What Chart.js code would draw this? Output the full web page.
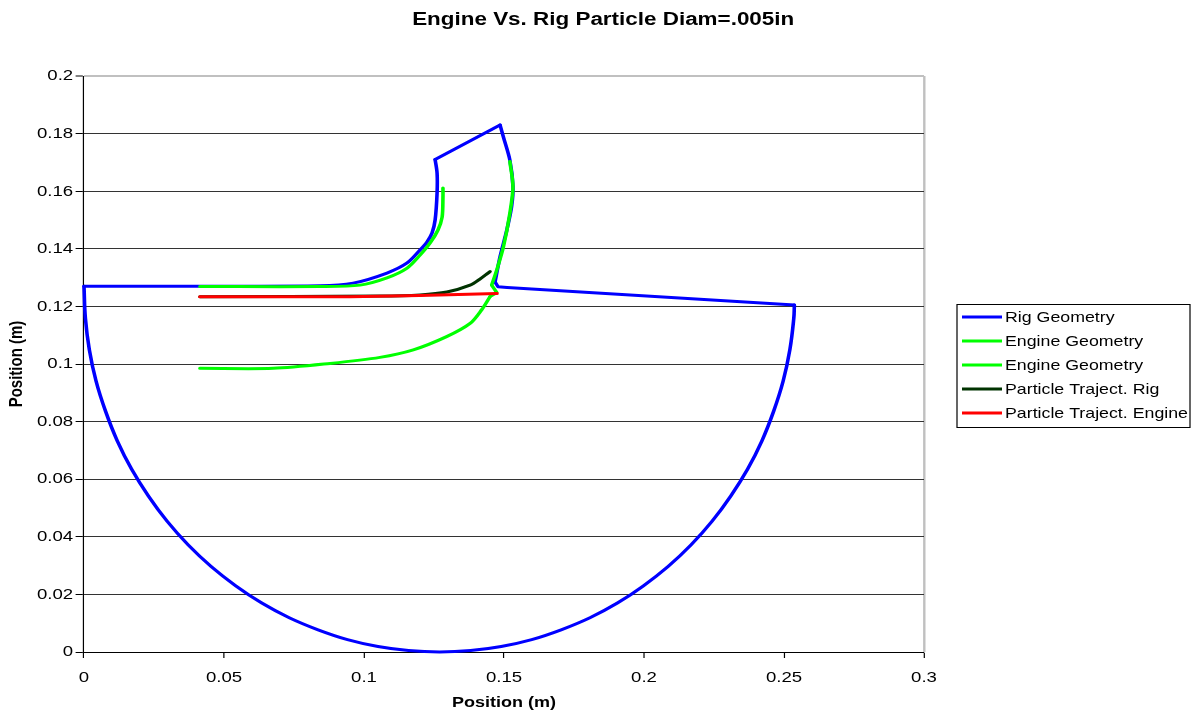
<!DOCTYPE html>
<html>
<head>
<meta charset="utf-8">
<script src="https://cdn.jsdelivr.net/npm/chart.js@4/dist/chart.umd.min.js"></script>
<style>
html,body{margin:0;padding:0;background:#fff;overflow:hidden}
canvas{display:block}
</style>
</head>
<body>
<canvas id="c" width="998" height="715" style="width:1198px;height:715px"></canvas>
<script>
// ---- text ----
const chartTitle = 'Engine Vs. Rig Particle Diam=.005in';
const xAxisTitle = 'Position (m)';
const yAxisTitle = 'Position (m)';
const xTickLabels = ['0', '0.05', '0.1', '0.15', '0.2', '0.25', '0.3'];
const yTickLabels = ['0', '0.02', '0.04', '0.06', '0.08', '0.1', '0.12', '0.14', '0.16', '0.18', '0.2'];
const seriesNames = ['Rig Geometry', 'Engine Geometry', 'Engine Geometry', 'Particle Traject. Rig', 'Particle Traject. Engine'];
const seriesColors = ['#0000FF', '#00FF00', '#00FF00', '#003300', '#FF0000'];

// ---- data ----
const rigX = [0, 0.0843, 0.0961, 0.1082, 0.1154, 0.1200, 0.1225, 0.1243, 0.1254, 0.1261, 0.1261, 0.1254,
  0.1486, 0.1498, 0.1521, 0.1532, 0.1527, 0.1510, 0.1486, 0.1468, 0.1479, 0.1511, 0.2537,
  0.2535, 0.2521, 0.2497, 0.2463, 0.2421, 0.2370, 0.2310, 0.2243, 0.2168, 0.2086, 0.1998, 0.1905, 0.1807, 0.1704, 0.1599, 0.1490, 0.1381,
  0.1270, 0.1159, 0.1050, 0.0941, 0.0836, 0.0733, 0.0635, 0.0542, 0.0454, 0.0372, 0.0297, 0.0230, 0.0170, 0.0119, 0.0077, 0.0043, 0.0019, 0.0005, 0];
const rigY = [0.1270, 0.1272, 0.1281, 0.1316, 0.1351, 0.1396, 0.1424, 0.1455, 0.1500, 0.1594, 0.1663, 0.1710,
  0.1830, 0.1788, 0.1708, 0.1616, 0.1546, 0.1465, 0.1373, 0.1285, 0.1268, 0.1266, 0.1205,
  0.1159, 0.1050, 0.0941, 0.0836, 0.0733, 0.0635, 0.0542, 0.0454, 0.0372, 0.0297, 0.0230, 0.0170, 0.0119, 0.0077, 0.0043, 0.0019, 0.0005,
  0.0000, 0.0005, 0.0019, 0.0043, 0.0077, 0.0119, 0.0170, 0.0230, 0.0297, 0.0372, 0.0454, 0.0542, 0.0635, 0.0733, 0.0836, 0.0941, 0.1050, 0.1159, 0.1270];

const engineAX = [0.0414, 0.0843, 0.0986, 0.1082, 0.1154, 0.1200, 0.1236, 0.1264, 0.1279, 0.1282, 0.1282];
const engineAY = [0.1269, 0.1269, 0.1274, 0.1299, 0.1333, 0.1378, 0.1420, 0.1465, 0.1510, 0.1580, 0.1611];

const engineBX = [0.1521, 0.1532, 0.1521, 0.1498, 0.1474, 0.1456, 0.1474, 0.1450, 0.1420, 0.1379, 0.1295, 0.1176, 0.1057, 0.0879, 0.0676, 0.0414];
const engineBY = [0.1703, 0.1616, 0.1524, 0.1407, 0.1326, 0.1274, 0.1248, 0.1234, 0.1188, 0.1141, 0.1095, 0.1049, 0.1023, 0.1002, 0.0985, 0.0985];

const partRigX = [0.0414, 0.1057, 0.1200, 0.1296, 0.1379, 0.1414, 0.1443, 0.1450];
const partRigY = [0.1234, 0.1236, 0.1240, 0.1250, 0.1274, 0.1295, 0.1316, 0.1321];

const partEngX = [0.0414, 0.0950, 0.1200, 0.1475];
const partEngY = [0.1234, 0.1234, 0.1238, 0.1245];

// ---- smoothing pieces: [firstIndex, lastIndex, tension] (sharp corners kept straight) ----
const rigPieces = [[0, 11, 0.3], [11, 12, 0], [12, 19, 0.3], [19, 22, 0], [22, 58, 0.4]];
const engineAPieces = [[0, 10, 0.3]];
const engineBPieces = [[0, 5, 0.3], [5, 7, 0], [7, 15, 0.3]];
const partRigPieces = [[0, 7, 0.3]];
const partEngPieces = [[0, 3, 0]];

// ---- layout ----
const OUT_W = 1198, INNER_W = 998, H = 715;
const SX = OUT_W / INNER_W;
const FONT = "'Liberation Sans', Arial, Helvetica, sans-serif";
const RIGHT_GAP = INNER_W - 924 / SX;
const PAD_LEFT = 7;

Chart.defaults.font.family = FONT;
Chart.defaults.color = '#000';

function pts(xs, ys) { return xs.map((x, i) => ({ x: x, y: ys[i] })); }

const series = [
  [rigX, rigY, rigPieces],
  [engineAX, engineAY, engineAPieces],
  [engineBX, engineBY, engineBPieces],
  [partRigX, partRigY, partRigPieces],
  [partEngX, partEngY, partEngPieces]
];

const datasets = [];
series.forEach((s, i) => {
  const all = pts(s[0], s[1]);
  s[2].forEach(p => {
    datasets.push({
      label: seriesNames[i],
      data: all.slice(p[0], p[1] + 1),
      showLine: true,
      borderColor: seriesColors[i],
      backgroundColor: seriesColors[i],
      borderWidth: 3,
      pointRadius: 0,
      pointHoverRadius: 0,
      tension: p[2],
      borderCapStyle: 'round',
      borderJoinStyle: 'round',
      clip: 8,
      order: 5 - i
    });
  });
});

const stretchPlugin = {
  id: 'stretch',
  beforeDraw(chart) { chart.ctx.setTransform(SX, 0, 0, 1, 0, 0); }
};

const legendBoxPlugin = {
  id: 'legendBox',
  afterDraw(chart) {
    const ctx = chart.ctx;
    ctx.save();
    ctx.setTransform(SX, 0, 0, 1, 0, 0);
    const x1 = 957 / SX, x2 = 1190 / SX, y1 = 304.5, y2 = 427.5;
    ctx.fillStyle = '#fff';
    ctx.fillRect(x1, y1, x2 - x1, y2 - y1);
    ctx.strokeStyle = '#000';
    ctx.lineWidth = 1;
    ctx.strokeRect(x1, y1, x2 - x1, y2 - y1);
    const rowY = [317, 341, 365, 389, 413];
    ctx.font = '14.8px ' + FONT;
    ctx.textBaseline = 'middle';
    ctx.textAlign = 'left';
    seriesNames.forEach((name, i) => {
      ctx.strokeStyle = seriesColors[i];
      ctx.lineWidth = 3;
      ctx.beginPath();
      ctx.moveTo(962 / SX, rowY[i]);
      ctx.lineTo(1002 / SX, rowY[i]);
      ctx.stroke();
      ctx.fillStyle = '#000';
      ctx.fillText(name, 1005 / SX, rowY[i] + 1);
    });
    ctx.restore();
  }
};

const lastX = xTickLabels.length - 1;
const lastY = yTickLabels.length - 1;

const chart = new Chart(document.getElementById('c'), {
  type: 'scatter',
  data: { datasets: datasets },
  plugins: [stretchPlugin, legendBoxPlugin],
  options: {
    responsive: false,
    animation: false,
    devicePixelRatio: 1,
    events: [],
    layout: { padding: { left: PAD_LEFT, right: 0, top: 0, bottom: 0 } },
    plugins: {
      legend: { display: false },
      tooltip: { enabled: false },
      title: {
        display: true,
        text: chartTitle,
        color: '#000',
        font: { size: 18.7, weight: 'bold', family: FONT },
        padding: { top: 8.3, bottom: 45.3 }
      }
    },
    scales: {
      x: {
        type: 'linear',
        position: 'bottom',
        min: 0, max: 0.3,
        ticks: {
          stepSize: 0.05,
          autoSkip: false,
          maxRotation: 0,
          color: '#000',
          padding: 10,
          font: { size: 15.5 },
          callback: (v, i) => xTickLabels[i]
        },
        grid: {
          drawOnChartArea: true,
          color: c => c.index === lastX ? '#c0c0c0' : 'rgba(0,0,0,0)',
          lineWidth: c => c.index === lastX ? 2 : 1,
          tickColor: '#000',
          tickWidth: 1,
          tickLength: 6
        },
        border: { display: true, color: '#000', width: 1 },
        title: {
          display: true, text: xAxisTitle, color: '#000',
          font: { size: 15, weight: 'bold' },
          padding: { top: 2, bottom: 3 }
        },
        afterFit: s => { s.height = 63; }
      },
      y: {
        type: 'linear',
        position: 'left',
        min: 0, max: 0.2,
        ticks: {
          stepSize: 0.02,
          autoSkip: false,
          color: '#000',
          padding: 2,
          font: { size: 15.5 },
          callback: (v, i) => yTickLabels[i]
        },
        grid: {
          color: c => c.index === lastY ? '#c0c0c0' : '#333333',
          lineWidth: c => c.index === lastY ? 2 : 1,
          tickColor: '#000',
          tickWidth: 1,
          tickLength: 7
        },
        border: { display: true, color: '#000', width: 1 },
        title: {
          display: true, text: yAxisTitle, color: '#000',
          font: { size: 15, weight: 'bold', lineHeight: 1 },
          padding: { top: 0, bottom: 2 }
        },
        afterFit: s => { s.width = 84 / SX - PAD_LEFT; }
      },
      y2: {
        type: 'linear',
        position: 'right',
        display: true,
        grid: { display: false },
        ticks: { display: false },
        border: { display: false },
        afterFit: s => { s.width = RIGHT_GAP; }
      }
    }
  }
});

const cv = document.getElementById('c');
cv.width = OUT_W;
cv.height = H;
cv.style.width = OUT_W + 'px';
cv.style.height = H + 'px';
chart.draw();
</script>
</body>
</html>
